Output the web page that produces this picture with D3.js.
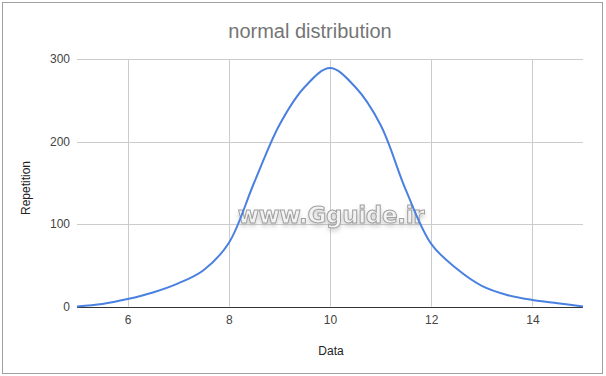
<!DOCTYPE html>
<html>
<head>
<meta charset="utf-8">
<script src="https://cdn.jsdelivr.net/npm/d3@7"></script>
<style>
  body { margin: 0; background: #fff; }
  text { font-family: "Liberation Sans", Arial, sans-serif; }
</style>
</head>
<body>
<div id="chart"></div>
<script>
// data
let dataX = [5, 5.5, 6, 6.5, 7, 7.5, 8, 8.5, 9, 9.5, 10, 10.5, 11, 11.5, 12, 12.5, 13, 13.5, 14, 14.5, 15]
let repetition = [0, 3, 9, 17, 28, 44, 77, 150, 220, 266, 289, 266, 220, 141, 76, 46, 25, 14, 8, 4, 0]
let xTicks = [6, 8, 10, 12, 14]
let yTicks = [0, 100, 200, 300]

let w = 606,
  h = 376,
  plotL = 77,
  plotR = 583,
  plotT = 59,
  plotB = 306.5

let xScale = d3.scaleLinear().domain([5, 15]).range([plotL, plotR])
let yScale = d3.scaleLinear().domain([0, 300]).range([plotB, plotT])

let svg = d3.select('#chart').append('svg')
  .attr('width', w)
  .attr('height', h)

// outer frame
svg.append('rect')
  .attr('x', 2.5).attr('y', 2.5)
  .attr('width', 600).attr('height', 371)
  .attr('fill', '#fff')
  .attr('stroke', '#a0a0a0')

// title
svg.append('text')
  .attr('x', 310).attr('y', 38)
  .attr('text-anchor', 'middle')
  .style('font-size', '20px')
  .style('fill', '#757575')
  .text('normal distribution')

// grid
svg.append('g')
  .selectAll('line')
  .data(xTicks)
  .enter()
  .append('line')
  .attr('x1', d => Math.round(xScale(d)) + 0.5)
  .attr('x2', d => Math.round(xScale(d)) + 0.5)
  .attr('y1', plotT)
  .attr('y2', plotB)
  .attr('stroke', '#cccccc')

svg.append('g')
  .selectAll('line')
  .data(yTicks.filter(d => d > 0))
  .enter()
  .append('line')
  .attr('x1', plotL)
  .attr('x2', plotR)
  .attr('y1', d => Math.round(yScale(d)) + 0.5)
  .attr('y2', d => Math.round(yScale(d)) + 0.5)
  .attr('stroke', '#cccccc')

// axes
let xAxis = d3.axisBottom(xScale).tickValues(xTicks).tickSize(0).tickPadding(9)
svg.append('g')
  .attr('transform', `translate(0, ${plotB})`)
  .call(xAxis)
  .call(g => g.select('.domain').remove())
  .selectAll('text')
  .style('font-size', '12px')
  .style('font-family', '"Liberation Sans", Arial, sans-serif')
  .style('fill', '#444')

let yAxis = d3.axisLeft(yScale).tickValues(yTicks).tickSize(0).tickPadding(7)
svg.append('g')
  .attr('transform', `translate(${plotL}, 0)`)
  .call(yAxis)
  .call(g => g.select('.domain').remove())
  .selectAll('text')
  .style('font-size', '12px')
  .style('font-family', '"Liberation Sans", Arial, sans-serif')
  .style('fill', '#444')

// axis titles
svg.append('text')
  .attr('transform', `translate(30, 188) rotate(-90)`)
  .attr('text-anchor', 'middle')
  .style('font-size', '12px')
  .style('fill', '#222')
  .text('Repetition')

svg.append('text')
  .attr('x', 331).attr('y', 355)
  .attr('text-anchor', 'middle')
  .style('font-size', '12px')
  .style('fill', '#222')
  .text('Data')

// watermark
let defs = svg.append('defs')
let shadow = defs.append('filter').attr('id', 'shadow')
  .attr('x', '-10%').attr('y', '-30%').attr('width', '120%').attr('height', '180%')
shadow.append('feDropShadow')
  .attr('dx', 0).attr('dy', 3).attr('stdDeviation', 2)
  .attr('flood-color', '#999').attr('flood-opacity', 0.45)

svg.append('text')
  .attr('x', 331).attr('y', 223)
  .attr('text-anchor', 'middle')
  .attr('filter', 'url(#shadow)')
  .style('font-size', '23px')
  .style('font-weight', 'bold')
  .style('font-family', '"DejaVu Sans", sans-serif')
  .style('letter-spacing', '-0.3px')
  .style('fill', '#f2f2f2')
  .style('stroke', '#a0a0a0')
  .style('stroke-width', 1)
  .text('www.Gguide.ir')

// baseline
svg.append('line')
  .attr('x1', plotL).attr('x2', plotR)
  .attr('y1', Math.round(yScale(0)) + 0.5)
  .attr('y2', Math.round(yScale(0)) + 0.5)
  .attr('stroke', '#333')

// line
let line = d3.line()
  .x((d, i) => xScale(dataX[i]))
  .y(d => yScale(d))
  .curve(d3.curveCatmullRom.alpha(0.5))

svg.append('path')
  .datum(repetition)
  .attr('d', line)
  .attr('fill', 'none')
  .attr('stroke', '#4a80e0')
  .attr('stroke-width', 2)
</script>
</body>
</html>
